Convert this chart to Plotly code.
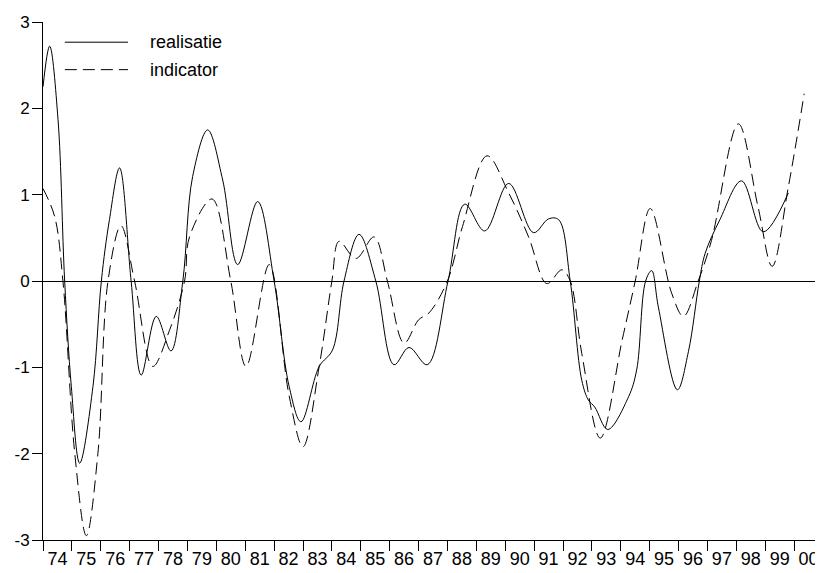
import plotly.graph_objects as go

# realisatie (solid) - time in years, value
real_t = [1974.0, 1974.23, 1974.52, 1974.75, 1974.98, 1975.27, 1975.73, 1976.02, 1976.3, 1976.65,
          1977.05, 1977.4, 1977.92, 1978.43, 1978.84, 1979.18, 1979.7, 1980.22, 1980.74, 1981.43,
          1982.0, 1982.52, 1982.93, 1983.56, 1984.02, 1984.42, 1984.94, 1985.52, 1986.15, 1986.67,
          1987.3, 1988.02, 1988.6, 1989.29, 1990.12, 1990.98, 1991.5, 1991.85, 1992.25, 1992.65,
          1992.88, 1993.1, 1993.55, 1994.27, 1994.55, 1994.86, 1995.07, 1995.3, 1995.96, 1996.34,
          1996.72, 1996.92, 1997.43, 1998.18, 1998.93, 1999.8]
real_v = [2.25, 2.72, 1.87, 0.0, -1.22, -2.11, -1.22, 0.0, 0.71, 1.31,
          0.0, -1.09, -0.41, -0.81, 0.0, 1.21, 1.75, 1.17, 0.19, 0.92,
          0.0, -1.22, -1.63, -0.99, -0.80, 0.0, 0.54, 0.0, -0.97, -0.77,
          -0.97, 0.0, 0.89, 0.58, 1.13, 0.56, 0.72, 0.71, 0.0, -1.15,
          -1.38, -1.46, -1.72, -1.34, -1.03, 0.0, 0.12, -0.3, -1.26, -0.82,
          0.0, 0.32, 0.71, 1.16, 0.57, 1.02]

# indicator (dashed)
ind_t = [1974.0, 1974.4, 1974.69, 1975.1, 1975.5, 1975.9, 1976.25, 1976.7, 1977.17, 1977.8,
         1978.38, 1978.9, 1979.07, 1979.85, 1980.5, 1981.03, 1981.83, 1982.52, 1983.0, 1983.56,
         1984.0, 1984.25, 1984.83, 1985.46, 1985.92, 1986.5, 1987.0, 1987.36, 1988.0, 1988.52,
         1989.37, 1990.12, 1990.81, 1991.44, 1991.96, 1992.25, 1992.65, 1993.29, 1994.05, 1994.5,
         1995.02, 1995.76, 1996.17, 1996.68, 1997.14, 1998.07, 1998.75, 1999.24, 1999.8, 2000.35]
ind_v = [1.07, 0.75, 0.0, -2.0, -2.95, -2.0, 0.0, 0.64, 0.0, -0.99,
         -0.57, 0.0, 0.51, 0.95, 0.0, -0.99, 0.19, -1.33, -1.92, -0.99,
         0.0, 0.46, 0.26, 0.51, 0.0, -0.72, -0.45, -0.37, 0.0, 0.63,
         1.45, 1.02, 0.51, -0.03, 0.13, 0.0, -0.84, -1.82, -0.68, 0.0,
         0.84, -0.14, -0.41, 0.0, 0.47, 1.82, 0.86, 0.17, 1.09, 2.17]

year_labels = ["74", "75", "76", "77", "78", "79", "80", "81", "82", "83", "84", "85", "86",
               "87", "88", "89", "90", "91", "92", "93", "94", "95", "96", "97", "98", "99", "00"]
first_year = 1974
y_ticks = [-3, -2, -1, 0, 1, 2, 3]
y_labels = ["-3", "-2", "-1", "0", "1", "2", "3"]
legend_names = ["realisatie", "indicator"]

FONT = "Liberation Sans, Arial, sans-serif"

fig = go.Figure()
fig.add_trace(go.Scatter(x=real_t, y=real_v, mode="lines", name=legend_names[0],
                         line=dict(color="black", width=1, shape="spline", smoothing=1.0),
                         showlegend=False))
fig.add_trace(go.Scatter(x=ind_t, y=ind_v, mode="lines", name=legend_names[1],
                         line=dict(color="black", width=1, shape="spline", smoothing=1.0, dash="12px,6px"),
                         showlegend=False))

n = len(year_labels)
mid_vals = [first_year + i + 0.5 for i in range(n)]
bounds = [first_year + i for i in range(n + 1)]

# page has an 8px body margin; figure sized to fit the 823x573 window
fig.update_layout(
    width=815, height=565,
    margin=dict(l=35, r=0, t=14, b=33, autoexpand=False),
    paper_bgcolor="white", plot_bgcolor="white",
    font=dict(family=FONT, size=18, color="black"),
    xaxis=dict(range=[first_year, first_year + n], showgrid=False, zeroline=False,
               showline=True, linecolor="black", linewidth=1,
               tickvals=mid_vals, ticktext=year_labels, ticks="", ticklabelstandoff=2,
               tickfont=dict(size=18), automargin=False,
               minor=dict(tickvals=bounds, ticks="outside", ticklen=10, tickcolor="black", tickwidth=1, showgrid=False)),
    yaxis=dict(range=[-3, 3], showgrid=False, zeroline=True, zerolinecolor="black", zerolinewidth=1,
               showline=True, linecolor="black", linewidth=1, automargin=False,
               tickvals=y_ticks, ticktext=y_labels, ticks="outside", ticklen=10, tickcolor="black", tickwidth=1,
               ticklabelstandoff=-1, tickfont=dict(size=17)),
)

# legend drawn manually
fig.add_shape(type="line", xref="paper", yref="paper", x0=0.028, x1=0.109, y0=0.961, y1=0.961,
              line=dict(color="black", width=1))
fig.add_shape(type="line", xref="paper", yref="paper", x0=0.028, x1=0.109, y0=0.908, y1=0.908,
              line=dict(color="black", width=1, dash="12px,6px"))
fig.add_annotation(xref="paper", yref="paper", x=0.134, y=0.961, text=legend_names[0], showarrow=False,
                   xanchor="left", yanchor="middle", font=dict(size=18))
fig.add_annotation(xref="paper", yref="paper", x=0.134, y=0.908, text=legend_names[1], showarrow=False,
                   xanchor="left", yanchor="middle", font=dict(size=18))

fig.write_html("out.html")
